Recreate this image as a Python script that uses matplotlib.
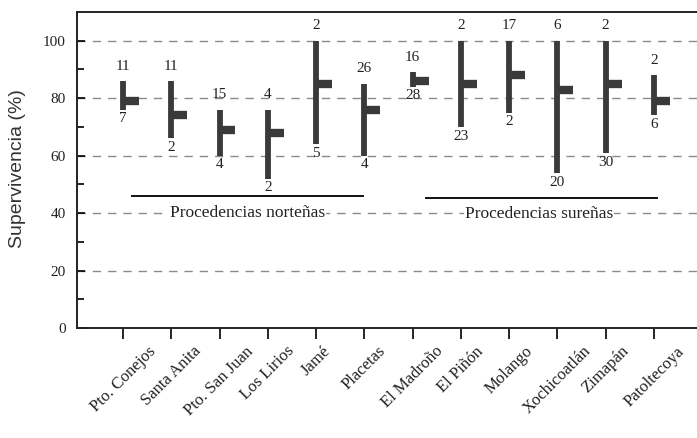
import matplotlib
matplotlib.use("Agg")
import matplotlib.pyplot as plt
import numpy as np

# Survival (%) per provenance: range (min-max), mean and sample counts
procedencias = ["Pto. Conejos", "Santa Anita", "Pto. San Juan", "Los Lirios", "Jamé",
                "Placetas", "El Madroño", "El Piñón", "Molango", "Xochicoatlán",
                "Zimapán", "Patoltecoya"]
sup_max = [86, 86, 76, 76, 100, 85, 89, 100, 100, 100, 100, 88]
sup_min = [76, 66, 60, 52, 64, 60, 84, 70, 75, 54, 61, 74]
sup_media = [79, 74, 69, 68, 85, 76, 86, 85, 88, 83, 85, 79]
n_sup = [11, 11, 15, 4, 2, 26, 16, 2, 17, 6, 2, 2]
n_inf = [7, 2, 4, 2, 5, 4, 28, 23, 2, 20, 30, 6]
y_ticks = [0, 20, 40, 60, 80, 100]

serif = "Liberation Serif"
ink = "#3a3a3a"

fig = plt.figure(figsize=(6.97, 4.38), dpi=100)
ax = fig.add_axes([0.1105, 0.2511, 0.9225, 0.7215])

x = np.arange(1, len(procedencias) + 1)

# dashed reference lines
for g in [20, 40, 60, 80, 100]:
    ax.axhline(g, color="#8a8a8a", lw=1.0, ls=(0, (6, 5)), zorder=1)

# range bars with a mean stub to the right
ax.vlines(x, sup_min, sup_max, color=ink, lw=4.2, capstyle="butt", zorder=3)
ax.hlines(sup_media, x, x + 0.33, color=ink, lw=6, capstyle="butt", zorder=3)

for xi, hi, lo, nt, nb in zip(x, sup_max, sup_min, n_sup, n_inf):
    ax.annotate(str(nt), (xi, hi), xytext=(0, 6), textcoords="offset points",
                ha="center", va="bottom", fontsize=11, family=serif, color="#222")
    ax.annotate(str(nb), (xi, lo), xytext=(0, -2), textcoords="offset points",
                ha="center", va="top", fontsize=11, family=serif, color="#222")

# group brackets
ax.plot([1.19, 5.97], [45.8, 45.8], color="#111", lw=1.4, zorder=2)
ax.plot([7.28, 12.06], [45.3, 45.3], color="#111", lw=1.4, zorder=2)
ax.text(3.58, 38.8, "Procedencias norteñas", ha="center", va="baseline",
        fontsize=12.5, family=serif, color="#222",
        bbox=dict(facecolor="white", edgecolor="none", pad=0.5))
ax.text(9.62, 38.2, "Procedencias sureñas", ha="center", va="baseline",
        fontsize=12.5, family=serif, color="#222",
        bbox=dict(facecolor="white", edgecolor="none", pad=0.5))

ax.set_xlim(0.047, 13.37)
ax.set_ylim(0, 110)
ax.set_xticks(x)
ax.set_xticklabels(procedencias, rotation=45, ha="center", va="top",
                   fontsize=12, family=serif, color="#222")
ax.set_yticks(y_ticks)
ax.set_yticklabels([str(v) for v in y_ticks], fontsize=11, family=serif, color="#222")
ax.set_yticks(np.arange(10, 110, 20), minor=True)
ax.tick_params(axis="y", which="major", direction="in", length=6, width=1.2, pad=8)
ax.tick_params(axis="y", which="minor", direction="in", length=5, width=1.2)
ax.tick_params(axis="x", direction="out", length=8, width=1.2, pad=3)

for s in ["left", "bottom", "top"]:
    ax.spines[s].set_linewidth(1.4)
    ax.spines[s].set_color("#222")
ax.spines["right"].set_visible(False)

fig.text(18 / 697, 1 - 169 / 438, "Supervivencia (%)", rotation=90,
         ha="center", va="center", fontsize=14, family="Liberation Sans", color="#333")

fig.savefig("out.png", dpi=100)
